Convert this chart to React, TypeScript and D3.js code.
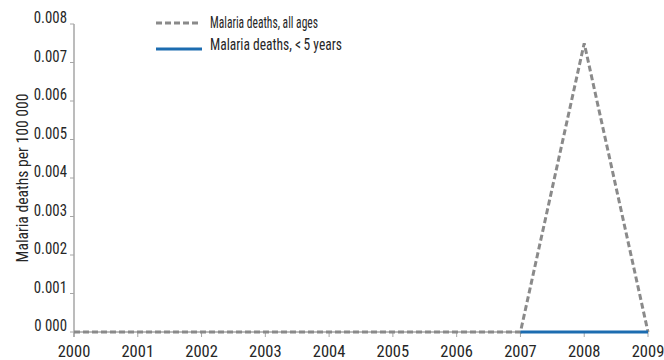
import React from "react";
import * as d3 from "d3";

const years = [2000, 2001, 2002, 2003, 2004, 2005, 2006, 2007, 2008, 2009];
const allAges: (number | null)[] = [0, 0, 0, 0, 0, 0, 0, 0, 0.0075, 0];
const under5: (number | null)[] = [null, null, null, null, null, null, null, 0, 0, 0];
const yTicks = [0, 0.001, 0.002, 0.003, 0.004, 0.005, 0.006, 0.007, 0.008];
const yTickLabels = ["0 000", "0.001", "0.002", "0.003", "0.004", "0.005", "0.006", "0.007", "0.008"];
const seriesNames = ["Malaria deaths, all ages", "Malaria deaths, <\u20095 years"];
const yTitle = "Malaria deaths per 100 000";

const FONT = "'Liberation Sans Narrow', 'Roboto Condensed', 'DejaVu Sans Condensed', sans-serif";

export default function App() {
  const W = 664, H = 360;
  const x = d3.scaleLinear().domain([2000, 2009]).range([74, 648]);
  const y = d3.scaleLinear().domain([0, 0.008]).range([332, 24]);
  const line = d3
    .line<[number, number | null]>()
    .defined((d) => d[1] !== null)
    .x((d) => x(d[0]))
    .y((d) => y(d[1] as number));
  const allPts = years.map((yr, i) => [yr, allAges[i]] as [number, number | null]);
  const u5Pts = years.map((yr, i) => [yr, under5[i]] as [number, number | null]);
  const grey = "#8a8a8a";
  const blue = "#1c6cb0";
  const axisCol = "#a6a6a6";
  const fs = 16.5;
  const txt = "#262626";
  return (
    <svg width={W} height={H} style={{ position: "absolute", left: 0, top: 0, background: "#fff" }} fontFamily={FONT}>
      {/* axes */}
      <line x1={x(2000)} x2={x(2000)} y1={y(0.008)} y2={y(0) + 5} stroke={axisCol} strokeWidth={1.5} />
      <line x1={x(2000)} x2={x(2009)} y1={y(0)} y2={y(0)} stroke={axisCol} strokeWidth={1.5} />
      {yTicks.map((t, i) => (
        <g key={t}>
          <line x1={x(2000) - 4} x2={x(2000)} y1={y(t)} y2={y(t)} stroke={axisCol} strokeWidth={1} />
          <text
            transform={`translate(${x(2000) - 7},${y(t) - 1}) scale(0.9,1)`}
            textAnchor="end"
            fontSize={fs}
            fill={txt}
          >
            {yTickLabels[i]}
          </text>
        </g>
      ))}
      {years.map((yr) => (
        <g key={yr}>
          <line x1={x(yr)} x2={x(yr)} y1={y(0)} y2={y(0) + 5} stroke={axisCol} strokeWidth={1} />
          <text x={x(yr)} y={y(0) + 25} textAnchor="middle" fontSize={fs} fill={txt}>
            {yr}
          </text>
        </g>
      ))}
      <text
        transform={`translate(28,${(y(0) + y(0.008)) / 2}) rotate(-90) scale(0.95,1)`}
        textAnchor="middle"
        fontSize={fs}
        fill={txt}
      >
        {yTitle}
      </text>
      {/* series */}
      <path d={line(allPts) || ""} fill="none" stroke={grey} strokeWidth={3} strokeDasharray="6,3" />
      <path d={line(u5Pts) || ""} fill="none" stroke={blue} strokeWidth={3} />
      {/* legend */}
      <line x1={156} x2={199} y1={23} y2={23} stroke={grey} strokeWidth={3} strokeDasharray="6,3" />
      <text x={210} y={27.5} fontSize={fs} fill={txt} textLength={108} lengthAdjust="spacingAndGlyphs">
        {seriesNames[0]}
      </text>
      <line x1={156} x2={202} y1={49} y2={49} stroke={blue} strokeWidth={3} />
      <text x={210} y={49.5} fontSize={fs} fill={txt} textLength={132} lengthAdjust="spacingAndGlyphs">
        {seriesNames[1]}
      </text>
    </svg>
  );
}
